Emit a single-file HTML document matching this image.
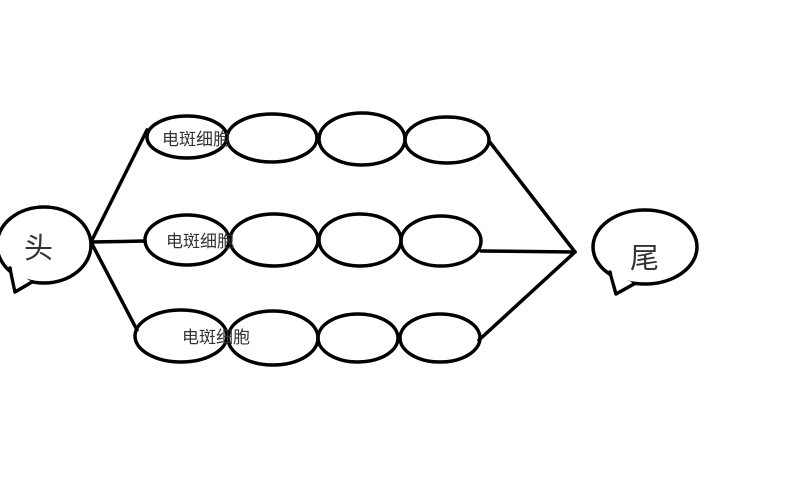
<!DOCTYPE html>
<html><head><meta charset="utf-8"><style>
html,body{margin:0;padding:0;background:#fff;}
svg{display:block;}
text{font-family:"Liberation Sans","Noto Sans CJK SC",sans-serif;fill:#333;}
</style></head><body>
<svg width="800" height="500" viewBox="0 0 800 500" xmlns="http://www.w3.org/2000/svg">
<rect width="800" height="500" fill="#fff"/>
<g fill="none" stroke="#000" stroke-width="3.5" stroke-linecap="round" stroke-linejoin="round">
<!-- head bubble -->
<ellipse cx="44" cy="245" rx="47" ry="38" fill="#fff"/>
<path d="M10,268 L15,292 L32,282" fill="#fff"/>
<path d="M12,270 L16,289 L30,281 Z" fill="#fff" stroke="none"/>
<!-- tail bubble -->
<ellipse cx="645" cy="247" rx="52" ry="37" fill="#fff"/>
<path d="M610,272 L616,294 L634,284" fill="#fff"/>
<path d="M612,274 L617,291 L632,282 Z" fill="#fff" stroke="none"/>
<!-- left lines -->
<line x1="91" y1="242" x2="147" y2="130"/>
<line x1="91" y1="242" x2="145" y2="241"/>
<line x1="91" y1="242" x2="137" y2="330"/>
<!-- right lines -->
<line x1="489" y1="141" x2="575" y2="252"/>
<line x1="481" y1="251" x2="575" y2="252"/>
<line x1="479" y1="340" x2="575" y2="252"/>
<!-- row1 -->
<ellipse cx="187" cy="137" rx="40" ry="21"/>
<ellipse cx="272" cy="138" rx="45" ry="24"/>
<ellipse cx="362" cy="139" rx="43" ry="26"/>
<ellipse cx="447" cy="140" rx="42" ry="23"/>
<!-- row2 -->
<ellipse cx="187" cy="240" rx="42" ry="25"/>
<ellipse cx="274" cy="240" rx="44" ry="26"/>
<ellipse cx="360" cy="240" rx="41" ry="26"/>
<ellipse cx="441" cy="241" rx="40" ry="25"/>
<!-- row3 -->
<ellipse cx="181" cy="336" rx="46" ry="26"/>
<ellipse cx="273" cy="338" rx="45" ry="27"/>
<ellipse cx="358" cy="338" rx="40" ry="24"/>
<ellipse cx="440" cy="338" rx="40" ry="24"/>
</g>
<text x="162" y="145" font-size="17">电斑细胞</text>
<text x="166" y="247" font-size="17">电斑细胞</text>
<text x="182" y="343" font-size="17">电斑细胞</text>
<text x="24" y="258" font-size="29">头</text>
<text x="630" y="268" font-size="29">尾</text>
</svg>
</body></html>
